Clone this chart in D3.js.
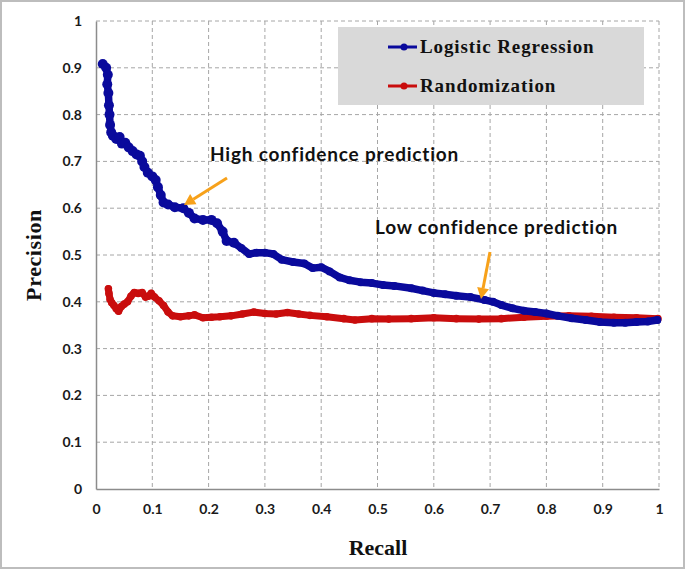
<!DOCTYPE html>
<html><head><meta charset="utf-8">
<script src="https://cdn.jsdelivr.net/npm/d3@7"></script>
<style>body{margin:0;background:#fff}svg{display:block}</style>
</head><body>
<svg id="c" width="685" height="573"></svg>
<script>
const xTicks = [0,0.1,0.2,0.3,0.4,0.5,0.6,0.7,0.8,0.9,1];
const yTicks = [0,0.1,0.2,0.3,0.4,0.5,0.6,0.7,0.8,0.9,1];
const seriesNames = ["Logistic Regression","Randomization"];
const lrRecall = [0.012,0.018,0.021,0.020,0.022,0.023,0.024,0.025,0.027,0.030,0.036,0.042,0.046,0.052,0.058,0.065,0.072,0.078,0.082,0.086,0.092,0.100,0.106,0.110,0.115,0.120,0.128,0.140,0.155,0.165,0.175,0.190,0.205,0.215,0.225,0.232,0.245,0.258,0.272,0.285,0.300,0.315,0.330,0.350,0.370,0.385,0.400,0.415,0.433,0.450,0.470,0.490,0.510,0.530,0.560,0.580,0.600,0.620,0.640,0.665,0.690,0.705,0.720,0.740,0.760,0.780,0.800,0.820,0.845,0.870,0.895,0.920,0.940,0.960,0.980,0.997];
const lrPrecision = [0.908,0.900,0.885,0.865,0.846,0.820,0.800,0.778,0.762,0.755,0.748,0.752,0.738,0.740,0.730,0.722,0.715,0.712,0.700,0.688,0.676,0.668,0.660,0.645,0.628,0.612,0.608,0.602,0.600,0.590,0.578,0.575,0.575,0.568,0.550,0.530,0.526,0.515,0.502,0.505,0.505,0.502,0.490,0.485,0.482,0.472,0.474,0.465,0.452,0.446,0.442,0.440,0.436,0.434,0.429,0.424,0.419,0.416,0.413,0.410,0.404,0.400,0.393,0.386,0.381,0.378,0.375,0.370,0.365,0.361,0.357,0.355,0.355,0.357,0.358,0.361];
const rndRecall = [0.022,0.023,0.025,0.028,0.032,0.036,0.040,0.045,0.050,0.056,0.062,0.068,0.075,0.082,0.088,0.093,0.098,0.104,0.112,0.120,0.128,0.136,0.150,0.165,0.175,0.190,0.205,0.220,0.240,0.260,0.280,0.300,0.320,0.340,0.360,0.380,0.410,0.440,0.460,0.490,0.520,0.560,0.600,0.640,0.680,0.720,0.760,0.800,0.840,0.880,0.920,0.960,0.998];
const rndPrecision = [0.428,0.418,0.405,0.398,0.392,0.385,0.380,0.390,0.395,0.400,0.412,0.420,0.418,0.420,0.410,0.412,0.418,0.410,0.402,0.392,0.378,0.370,0.368,0.370,0.372,0.366,0.367,0.368,0.370,0.374,0.378,0.375,0.374,0.377,0.374,0.371,0.368,0.364,0.361,0.364,0.363,0.364,0.366,0.364,0.363,0.364,0.367,0.369,0.370,0.369,0.367,0.366,0.364];

const svg = d3.select("#c");
const L=96,R=659,T=21,B=489;
const x = d3.scaleLinear().domain([0,1]).range([L,R]);
const y = d3.scaleLinear().domain([0,1]).range([B,T]);
const sans = "Lato, 'Open Sans', sans-serif";
const serif = "'Liberation Serif', 'DejaVu Serif', serif";

// outer frame
svg.append("rect").attr("x",1).attr("y",1).attr("width",683).attr("height",567)
  .attr("fill","#fff").attr("stroke","#bdbdbd").attr("stroke-width",2);

// grid
const g = svg.append("g");
g.selectAll(".gx").data(xTicks.filter(d=>d>0)).enter().append("line")
  .attr("x1",d=>x(d)).attr("x2",d=>x(d)).attr("y1",T).attr("y2",B)
  .attr("stroke","#a6a6a6").attr("stroke-dasharray","4,3").attr("stroke-width",1);
g.selectAll(".gy").data(yTicks.filter(d=>d>0)).enter().append("line")
  .attr("x1",L).attr("x2",R).attr("y1",d=>y(d)).attr("y2",d=>y(d))
  .attr("stroke","#a6a6a6").attr("stroke-dasharray","4,3").attr("stroke-width",1);

// axes
const xa = svg.append("g").attr("transform",`translate(0,${B})`)
  .call(d3.axisBottom(x).tickValues(xTicks).tickSize(0).tickPadding(15).tickFormat(d3.format("~g")));
const ya = svg.append("g").attr("transform",`translate(${L},0)`)
  .call(d3.axisLeft(y).tickValues(yTicks).tickSize(0).tickPadding(14).tickFormat(d3.format("~g")));
[xa,ya].forEach(a=>{
  a.select(".domain").attr("stroke","#8c8c8c").attr("stroke-width",1.5);
  a.selectAll("text").attr("font-family",sans).attr("font-weight","bold").attr("font-size",14).attr("fill","#1a1a1a");
});

// legend box
svg.append("rect").attr("x",338).attr("y",27).attr("width",306).attr("height",78).attr("fill","#d9d9d9");

const line = d3.line().x(d=>x(d[0])).y(d=>y(d[1]));
const lr = lrRecall.map((r,i)=>[r,lrPrecision[i]]);
const rnd = rndRecall.map((r,i)=>[r,rndPrecision[i]]);
const blue = "#0a0a9c", red = "#c90d0d";

svg.append("path").datum(rnd).attr("d",line).attr("fill","none").attr("stroke",red)
  .attr("stroke-width",7).attr("stroke-linejoin","round").attr("stroke-linecap","round");
svg.append("g").selectAll("circle").data(rnd).enter().append("circle")
  .attr("cx",d=>x(d[0])).attr("cy",d=>y(d[1])).attr("r",3.8).attr("fill",red);

svg.append("path").datum(lr).attr("d",line).attr("fill","none").attr("stroke",blue)
  .attr("stroke-width",7.5).attr("stroke-linejoin","round").attr("stroke-linecap","round");
svg.append("g").selectAll("circle").data(lr).enter().append("circle")
  .attr("cx",d=>x(d[0])).attr("cy",d=>y(d[1])).attr("r",d=>d[0]<0.25?5:4).attr("fill",blue);

// legend entries
const leg = [{n:seriesNames[0],c:blue,yy:47},{n:seriesNames[1],c:red,yy:86}];
leg.forEach(e=>{
  svg.append("line").attr("x1",388).attr("x2",417).attr("y1",e.yy).attr("y2",e.yy).attr("stroke",e.c).attr("stroke-width",3);
  svg.append("circle").attr("cx",404).attr("cy",e.yy).attr("r",3.5).attr("fill",e.c);
  svg.append("text").attr("x",420).attr("y",e.yy+6).text(e.n)
    .attr("font-family",serif).attr("font-weight","bold").attr("font-size",19)
    .attr("letter-spacing",0.9).attr("fill","#111");
});

// annotations
svg.append("text").attr("x",210).attr("y",161).text("High confidence prediction")
  .attr("font-family",sans).attr("font-weight","bold").attr("font-size",19)
  .attr("letter-spacing",0.8).attr("fill","#111");
svg.append("text").attr("x",375).attr("y",234).text("Low confidence prediction")
  .attr("font-family",sans).attr("font-weight","bold").attr("font-size",19)
  .attr("letter-spacing",0.8).attr("fill","#111");

const orange="#f7a11a";
function arrow(x1,y1,x2,y2){
  const ang=Math.atan2(y2-y1,x2-x1), len=11, w=6;
  const bx=x2-len*Math.cos(ang), by=y2-len*Math.sin(ang);
  svg.append("line").attr("x1",x1).attr("y1",y1).attr("x2",bx).attr("y2",by).attr("stroke",orange).attr("stroke-width",3);
  const px=-Math.sin(ang)*w, py=Math.cos(ang)*w;
  svg.append("path").attr("d",`M${x2},${y2}L${bx+px},${by+py}L${bx-px},${by-py}Z`).attr("fill",orange);
}
arrow(227,178,184,205);
arrow(490,252,481,299);

// axis titles
svg.append("text").attr("x",378).attr("y",555).attr("text-anchor","middle").text("Recall")
  .attr("font-family",serif).attr("font-weight","bold").attr("font-size",22).attr("fill","#111");
svg.append("text").attr("transform","translate(41,255) rotate(-90)").attr("text-anchor","middle").text("Precision")
  .attr("font-family",serif).attr("font-weight","bold").attr("font-size",22)
  .attr("letter-spacing",0.6).attr("fill","#111");
</script>
</body></html>
